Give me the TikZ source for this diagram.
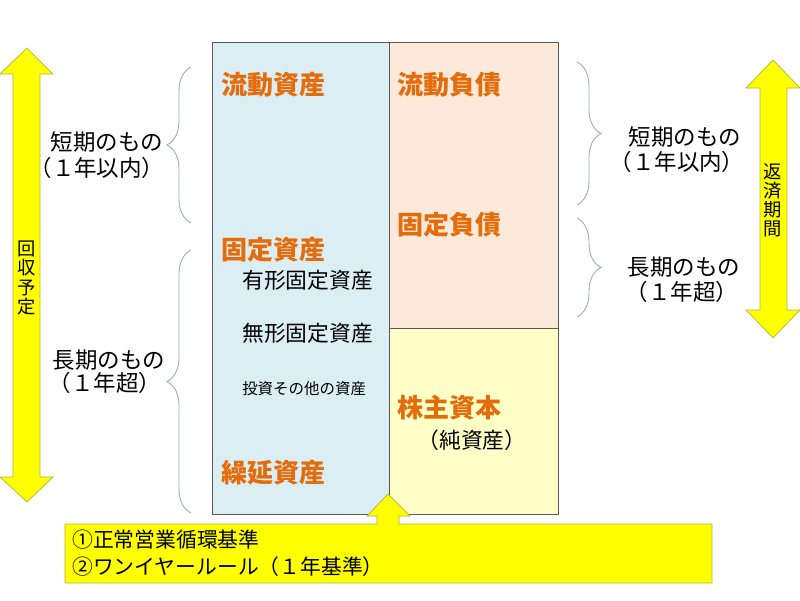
\documentclass[tikz,border=0pt]{standalone}
\usepackage{fontspec}
\setmainfont{Noto Sans CJK JP}
\usepackage{xcolor}
\definecolor{cAsset}{HTML}{DAEEF3}
\definecolor{cDebt}{HTML}{FDE9D9}
\definecolor{cEquity}{HTML}{FFFFC8}
\definecolor{cHead}{HTML}{E46C0A}
\definecolor{cLine}{HTML}{595959}
\definecolor{cBrace}{HTML}{8EA9C8}
\definecolor{cYellow}{HTML}{FFFF00}
\definecolor{cYellowLine}{HTML}{B5B53A}
\usepackage{tikz}
\usetikzlibrary{decorations.pathreplacing}
\tikzset{
  cell/.style={draw=cLine,line width=0.5pt},
  node-head/.style={anchor=west,inner sep=0pt,text=cHead,
    font=\fontsize{18.5}{20}\selectfont\bfseries},
  node-item/.style={anchor=west,inner sep=0pt,font=\fontsize{15.5}{17}\selectfont},
  node-small/.style={anchor=west,inner sep=0pt,font=\fontsize{11}{13}\selectfont},
  node-term/.style={inner sep=0pt,font=\fontsize{16}{18}\selectfont},
  node-vert/.style={inner sep=0pt,align=center,font=\fontsize{13}{13.6}\selectfont},
  node-note/.style={anchor=west,inner sep=0pt,font=\fontsize{14.8}{16}\selectfont},
  band/.style={fill=cYellow,draw=cYellowLine,line width=0.5pt,line join=miter},
  brace-line/.style={decorate,decoration={brace,amplitude=6mm},draw=cBrace,line width=0.6pt},
}

\begin{document}
\begin{tikzpicture}[x=0.25mm,y=-0.25mm]
  \useasboundingbox (0,0) rectangle (800,600);

  % 貸借対照表
  \draw[cell,fill=cAsset] (212,42) rectangle (389,514);
  \draw[cell,fill=cDebt] (389,42) rectangle (558,328);
  \draw[cell,fill=cEquity] (389,328) rectangle (558,514);

  \node[node-head] (ca) at (221,85) {流動資産};
  \node[node-head] (fa) at (221,250) {固定資産};
  \node[node-item] (tfa) at (242,280) {有形固定資産};
  \node[node-item] (ifa) at (242,333) {無形固定資産};
  \node[node-small] (inv) at (242,389) {投資その他の資産};
  \node[node-head] (da) at (221,473) {繰延資産};
  \node[node-head] (cl) at (397,85) {流動負債};
  \node[node-head] (fl) at (397,225) {固定負債};
  \node[node-head] (eq) at (397,408) {株主資本};
  \node[node-item,anchor=center] (na) at (472,440) {（純資産）};

  % 回収予定
  \draw[band] (27,48) -- (53,74) -- (40,74) -- (40,477) -- (53,477) -- (27,502)
    -- (0,477) -- (13,477) -- (13,74) -- (0,74) -- cycle;
  \node[node-vert] (recv) at (27,278) {回\\収\\予\\定};

  % 返済期間
  \draw[band] (773,60) -- (800,88) -- (787,88) -- (787,310) -- (800,310) -- (773,338)
    -- (746,310) -- (760,310) -- (760,88) -- (746,88) -- cycle;
  \node[node-vert] (repay) at (773,200) {返\\済\\期\\間};

  % 左の括弧
  \coordinate (lbs1) at (191,223);
  \coordinate (lbe1) at (191,67);
  \coordinate (lbs2) at (191,513);
  \coordinate (lbe2) at (191,250);
  \draw[brace-line] (lbs1) -- (lbe1);
  \draw[brace-line] (lbs2) -- (lbe2);
  \node[node-term] (ls1) at (107,142) {短期のもの};
  \node[node-term] (ls2) at (97,168) {（１年以内）};
  \node[node-term] (ll1) at (109,360) {長期のもの};
  \node[node-term] (ll2) at (105,383) {（１年超）};

  % 右の括弧
  \coordinate (rbs1) at (577,62);
  \coordinate (rbe1) at (577,205);
  \coordinate (rbs2) at (577,218);
  \coordinate (rbe2) at (577,317);
  \draw[brace-line] (rbs1) -- (rbe1);
  \draw[brace-line] (rbs2) -- (rbe2);
  \node[node-term] (rs1) at (685,137) {短期のもの};
  \node[node-term] (rs2) at (677,162) {（１年以内）};
  \node[node-term] (rl1) at (684,267) {長期のもの};
  \node[node-term] (rl2) at (682,292) {（１年超）};

  % 区分の基準
  \draw[band] (65,524) -- (377,524) -- (377,516) -- (367,516) -- (388,494)
    -- (410,516) -- (399,516) -- (399,524) -- (712,524) -- (712,583)
    -- (65,583) -- cycle;
  \node[node-note] (rule1) at (72,540) {①正常営業循環基準};
  \node[node-note] (rule2) at (72,567) {②ワンイヤールール（１年基準）};
\end{tikzpicture}
\end{document}
